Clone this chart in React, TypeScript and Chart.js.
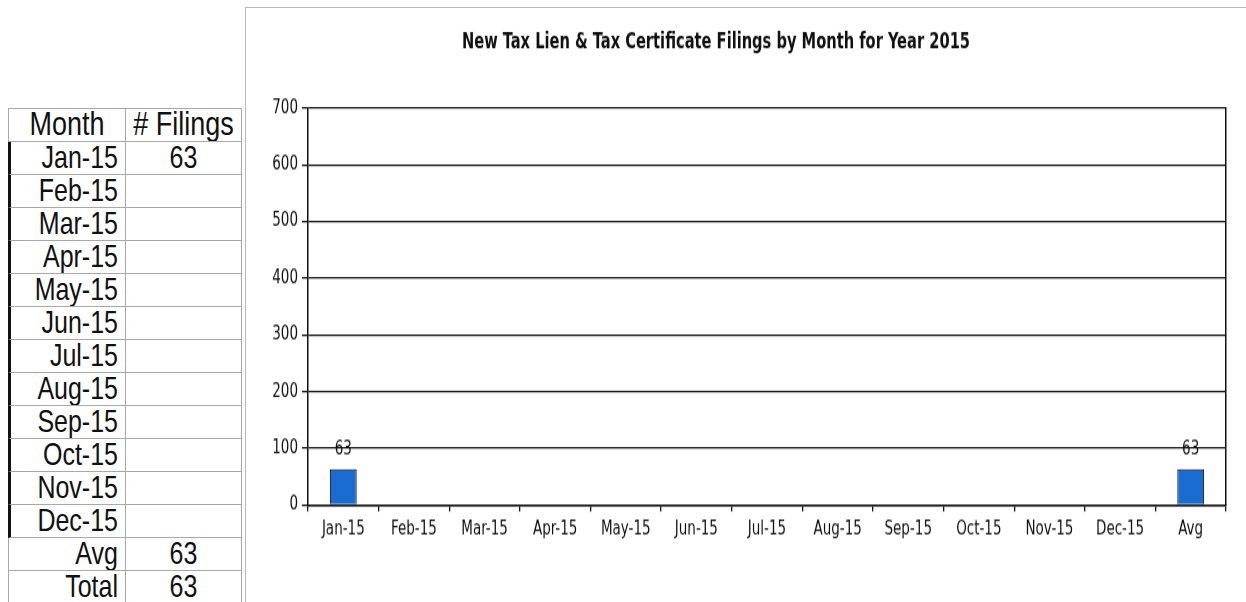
import React, { useEffect, useRef } from 'react';
import { Chart, registerables } from 'chart.js';

Chart.register(...registerables);

// ---------- data ----------
const months = [
  'Jan-15', 'Feb-15', 'Mar-15', 'Apr-15', 'May-15', 'Jun-15',
  'Jul-15', 'Aug-15', 'Sep-15', 'Oct-15', 'Nov-15', 'Dec-15',
];
const monthFilings: (number | null)[] = [63, null, null, null, null, null, null, null, null, null, null, null];
const avgLabel = 'Avg';
const avgFilings = 63;
const totalLabel = 'Total';
const totalFilings = 63;
const yTickValues = [0, 100, 200, 300, 400, 500, 600, 700];
const tableHeaders = ['Month', '# Filings'];
const chartTitle = 'New Tax Lien & Tax Certificate Filings by Month for Year 2015';

// ---------- style ----------
const NARROW = "'Liberation Sans Narrow', 'Arial Narrow', 'DejaVu Sans Condensed', sans-serif";
const SANS = "'Liberation Sans', Arial, sans-serif";
const SY = 1.25; // vertical stretch of the scanned page
const CANVAS_W = 1001;
const CANVAS_H = 476;

const titlePlugin = {
  id: 'pageTitle',
  afterDraw(chart: any) {
    const ctx = chart.ctx;
    ctx.save();
    ctx.font = `bold 18px ${NARROW}`;
    ctx.fillStyle = '#111';
    ctx.textAlign = 'center';
    ctx.textBaseline = 'middle';
    ctx.translate(471, 28.4);
    ctx.scale(0.905, 1);
    ctx.fillText(chartTitle, 0, 0);
    ctx.restore();
  },
};

const valueLabelPlugin = {
  id: 'valueLabels',
  afterDatasetsDraw(chart: any) {
    const ctx = chart.ctx;
    const meta = chart.getDatasetMeta(0);
    const values = chart.data.datasets[0].data;
    ctx.save();
    ctx.font = `15px ${NARROW}`;
    ctx.fillStyle = '#111';
    ctx.textAlign = 'center';
    ctx.textBaseline = 'middle';
    meta.data.forEach((el: any, i: number) => {
      const v = values[i];
      if (v === null || v === undefined) return;
      ctx.fillText(String(v), el.x, el.y - 16);
    });
    ctx.restore();
  },
};

function FilingsChart() {
  const ref = useRef<HTMLCanvasElement | null>(null);
  useEffect(() => {
    if (!ref.current) return;
    const tickFont = { family: NARROW, size: 15 };
    const chart = new Chart(ref.current, {
      type: 'bar',
      data: {
        labels: [...months, avgLabel],
        datasets: [
          {
            data: [...monthFilings, avgFilings],
            backgroundColor: '#1b6cd2',
            borderColor: '#111',
            borderWidth: 1,
            categoryPercentage: 1,
            barPercentage: 0.38,
          },
        ],
      },
      options: {
        responsive: false,
        animation: false,
        layout: { padding: { top: 80.8, left: 0, right: 20, bottom: 0 } },
        plugins: {
          legend: { display: false },
          title: { display: false },
          tooltip: { enabled: false },
        },
        scales: {
          x: {
            grid: {
              display: true,
              drawOnChartArea: false,
              drawTicks: true,
              tickLength: 5,
              color: '#111',
              lineWidth: 1.3,
              offset: true,
            },
            border: { display: true, color: '#111', width: 1.5 },
            ticks: { color: '#111', font: tickFont, padding: 6, maxRotation: 0, autoSkip: false },
            afterFit: (s: any) => { s.height = 77.6; },
          },
          y: {
            min: 0,
            max: 700,
            afterBuildTicks: (s: any) => { s.ticks = yTickValues.map((v) => ({ value: v })); },
            grid: { color: '#111', lineWidth: 1.3, tickLength: 6, drawTicks: true },
            border: { display: true, color: '#111', width: 1.5 },
            ticks: { color: '#111', font: tickFont, padding: 4 },
            afterFit: (s: any) => { s.width = 63; },
          },
          y2: {
            position: 'right',
            min: 0,
            max: 700,
            grid: { display: false, drawTicks: false },
            ticks: { display: false },
            border: { display: true, color: '#111', width: 1.5 },
            afterFit: (s: any) => { s.width = 0; },
          },
        },
      } as any,
      plugins: [titlePlugin, valueLabelPlugin],
    });
    return () => chart.destroy();
  }, []);
  return <canvas ref={ref} width={CANVAS_W} height={CANVAS_H} style={{ display: 'block' }} />;
}

const GRID = '#a8a8a8';
const ROW_H = 33;

function Cell(props: {
  text: string | number;
  align: 'left' | 'right' | 'center';
  width: number;
  thickLeft?: boolean;
  first?: boolean;
  size?: number;
}) {
  const { text, align, width, thickLeft, first, size } = props;
  return (
    <div
      style={{
        boxSizing: 'border-box',
        width,
        height: ROW_H,
        lineHeight: `${ROW_H - 2}px`,
        textAlign: align,
        paddingRight: align === 'right' ? 7 : 0,
        borderRight: `1px solid ${GRID}`,
        borderBottom: `1px solid ${GRID}`,
        borderLeft: first ? (thickLeft ? '3px solid #111' : `1px solid ${GRID}`) : 'none',
        fontFamily: SANS,
        fontSize: size || 25,
        color: '#111',
        overflow: 'hidden',
        whiteSpace: 'nowrap',
      }}
    >
      <span style={{ display: 'inline-block', transform: `scaleY(${SY})` }}>{text}</span>
    </div>
  );
}

function FilingsTable() {
  const rows: { m: string; v: string | number; thick: boolean }[] = [];
  months.forEach((m, i) => {
    const v = monthFilings[i];
    rows.push({ m, v: v === null ? '' : v, thick: true });
  });
  rows.push({ m: avgLabel, v: avgFilings, thick: false });
  rows.push({ m: totalLabel, v: totalFilings, thick: false });
  return (
    <div
      style={{
        position: 'absolute',
        left: 8,
        top: 108,
        width: 234,
        borderTop: `1px solid ${GRID}`,
      }}
    >
      <div style={{ display: 'flex' }}>
        <Cell text={tableHeaders[0]} align="center" width={118} first size={27} />
        <Cell text={tableHeaders[1]} align="center" width={116} size={27} />
      </div>
      {rows.map((r) => (
        <div key={r.m} style={{ display: 'flex' }}>
          <Cell text={r.m} align="right" width={118} first thickLeft={r.thick} />
          <Cell text={r.v} align="center" width={116} />
        </div>
      ))}
    </div>
  );
}

export default function App() {
  return (
    <div
      style={{
        position: 'absolute',
        left: 0,
        top: 0,
        width: 1246,
        height: 602,
        overflow: 'hidden',
        background: '#fff',
      }}
    >
      <FilingsTable />
      {/* chart frame */}
      <div style={{ position: 'absolute', left: 245, top: 7, width: 1, height: 595, background: '#b8b8b8' }} />
      <div style={{ position: 'absolute', left: 245, top: 7, width: 1001, height: 1, background: '#b8b8b8' }} />
      <div
        style={{
          position: 'absolute',
          left: 245,
          top: 7,
          width: CANVAS_W,
          height: CANVAS_H,
          transform: `scaleY(${SY})`,
          transformOrigin: 'top left',
        }}
      >
        <FilingsChart />
      </div>
    </div>
  );
}
